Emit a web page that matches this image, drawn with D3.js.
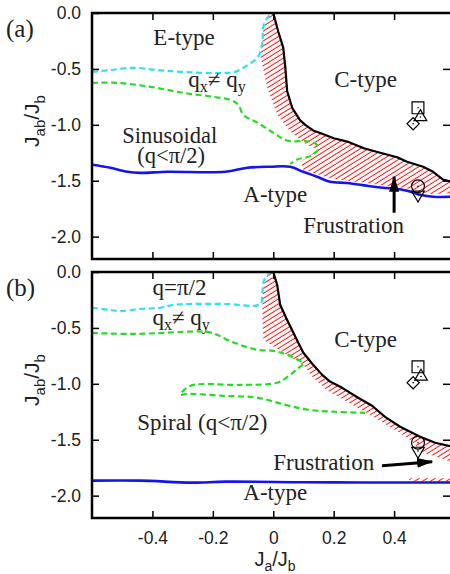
<!DOCTYPE html>
<html>
<head>
<meta charset="utf-8">
<script src="https://cdn.jsdelivr.net/npm/d3@7"></script>
<style>
  body { margin: 0; background: #fff; }
  svg { display: block; }
</style>
</head>
<body>
<svg id="chart" width="450" height="574"></svg>
<script>
// tick values shared by both panels
const xTicks = [-0.4, -0.2, 0, 0.2, 0.4];
const yTicks = [0, -0.5, -1.0, -1.5, -2.0];

// panel (a) boundaries, [Ja/Jb, Jab/Jb]
const aBlack = [[0,0],[0.017,-0.17],[0.033,-0.31],[0.040,-0.49],[0.046,-0.70],[0.063,-0.85],[0.089,-0.96],[0.106,-1.00],[0.132,-1.05],[0.162,-1.08],[0.20,-1.12],[0.245,-1.15],[0.30,-1.21],[0.354,-1.25],[0.41,-1.29],[0.443,-1.33],[0.496,-1.375],[0.529,-1.42],[0.562,-1.49],[0.59,-1.51]];
const aCyan = [[-0.6,-0.527],[-0.539,-0.51],[-0.463,-0.49],[-0.383,-0.51],[-0.307,-0.527],[-0.159,-0.536],[-0.126,-0.527],[-0.093,-0.48],[-0.05,-0.39],[-0.036,-0.26],[-0.033,-0.125],[-0.017,-0.036],[0,0]];
const aGreen = [[-0.6,-0.625],[-0.516,-0.625],[-0.407,-0.66],[-0.298,-0.714],[-0.198,-0.75],[-0.142,-0.777],[-0.116,-0.82],[-0.099,-0.91],[-0.053,-0.98],[0,-1.07],[0.046,-1.14],[0.122,-1.15],[0.145,-1.18],[0.149,-1.22],[0.122,-1.28],[0.079,-1.31],[0.056,-1.35]];
const aBlue = [[-0.6,-1.357],[-0.539,-1.384],[-0.483,-1.42],[-0.44,-1.43],[-0.35,-1.42],[-0.159,-1.42],[-0.086,-1.384],[-0.01,-1.375],[0.056,-1.375],[0.099,-1.42],[0.145,-1.464],[0.188,-1.51],[0.245,-1.52],[0.311,-1.545],[0.354,-1.56],[0.397,-1.57],[0.443,-1.59],[0.486,-1.625],[0.529,-1.643],[0.59,-1.643]];
const aHatch = [[0,0],[0.017,-0.17],[0.033,-0.31],[0.040,-0.49],[0.046,-0.70],[0.063,-0.85],[0.089,-0.96],[0.106,-1.00],[0.132,-1.05],[0.162,-1.08],[0.20,-1.12],[0.245,-1.15],[0.30,-1.21],[0.354,-1.25],[0.41,-1.29],[0.443,-1.33],[0.496,-1.375],[0.529,-1.42],[0.562,-1.49],[0.59,-1.51],
  [0.59,-1.61],[0.53,-1.62],[0.486,-1.60],[0.443,-1.57],[0.397,-1.55],[0.354,-1.54],[0.311,-1.52],[0.245,-1.50],[0.188,-1.48],[0.145,-1.44],[0.099,-1.40],[0.09,-1.33],[0.12,-1.28],[0.145,-1.22],[0.112,-1.18],[0.056,-1.06],[0.013,-0.91],[-0.02,-0.67],[-0.043,-0.375],[-0.036,-0.26],[-0.033,-0.125],[-0.01,-0.02]];
const aMarkers = [["square",0.479,-0.848],["triangle",0.487,-0.93],["diamond",0.463,-0.99],["circle",0.479,-1.55],["triangleDown",0.479,-1.625]];

// panel (b) boundaries
const bBlack = [[0,0],[0.013,-0.116],[0.023,-0.295],[0.046,-0.43],[0.073,-0.58],[0.099,-0.72],[0.129,-0.82],[0.162,-0.92],[0.188,-0.98],[0.228,-1.036],[0.281,-1.125],[0.327,-1.196],[0.37,-1.295],[0.42,-1.384],[0.486,-1.473],[0.536,-1.527],[0.59,-1.56]];
const bCyan = [[-0.6,-0.32],[-0.539,-0.34],[-0.506,-0.35],[-0.44,-0.33],[-0.374,-0.32],[-0.334,-0.295],[-0.274,-0.286],[-0.159,-0.286],[-0.043,-0.286],[-0.036,-0.18],[-0.03,-0.07],[-0.01,-0.01],[0,0]];
const bGreen = [[-0.6,-0.545],[-0.463,-0.554],[-0.218,-0.536],[-0.185,-0.5625],[-0.152,-0.607],[-0.109,-0.652],[-0.053,-0.696],[0,-0.705],[0.046,-0.74],[0.089,-0.795],[0.099,-0.82],[0.079,-0.866],[0.056,-0.92],[0.013,-0.99],[-0.109,-1.01],[-0.274,-1.018],[-0.307,-1.098],[-0.284,-1.09],[-0.165,-1.107],[-0.05,-1.125],[0.04,-1.188],[0.116,-1.232],[0.205,-1.25],[0.304,-1.259]];
const bBlue = [[-0.6,-1.866],[-0.44,-1.866],[-0.27,-1.884],[-0.159,-1.875],[0.1,-1.88],[0.3,-1.882],[0.59,-1.882]];
const bHatch = [[0,0],[0.013,-0.116],[0.023,-0.295],[0.046,-0.43],[0.073,-0.58],[0.099,-0.72],[0.129,-0.82],[0.162,-0.92],[0.188,-0.98],[0.228,-1.036],[0.281,-1.125],[0.327,-1.196],[0.37,-1.295],[0.42,-1.384],[0.486,-1.473],[0.536,-1.527],[0.59,-1.56],
  [0.59,-1.70],[0.552,-1.66],[0.496,-1.616],[0.453,-1.5],[0.42,-1.44],[0.31,-1.26],[0.221,-1.125],[0.179,-1.06],[0.132,-0.946],[0.099,-0.83],[0.023,-0.705],[-0.033,-0.607],[-0.036,-0.43],[-0.036,-0.295],[-0.033,-0.116],[-0.017,-0.018]];
const bHatchStrip = [[0.45,-1.845],[0.59,-1.845],[0.59,-1.875],[0.45,-1.875]];
const bMarkers = [["square",0.479,-0.848],["triangle",0.489,-0.935],["diamond",0.463,-0.99],["circle",0.479,-1.527],["triangleDown",0.479,-1.60]];

const svg = d3.select("#chart");
const serif = "'Liberation Serif', 'Times New Roman', serif";
const sans = "'Liberation Sans', Arial, sans-serif";

const x = d3.scaleLinear().domain([-0.6, 0.585]).range([92, 450]);

const defs = svg.append("defs");
defs.append("pattern")
    .attr("id", "hatch")
    .attr("patternUnits", "userSpaceOnUse")
    .attr("width", 8).attr("height", 4.2)
    .attr("patternTransform", "rotate(-32)")
  .append("line")
    .attr("x1", 0).attr("x2", 8).attr("y1", 2).attr("y2", 2)
    .attr("stroke", "#ff1010").attr("stroke-width", 1);

defs.append("marker")
    .attr("id", "arrowhead")
    .attr("markerUnits", "userSpaceOnUse")
    .attr("viewBox", "0 0 16 10")
    .attr("refX", 15).attr("refY", 5)
    .attr("markerWidth", 16).attr("markerHeight", 10)
    .attr("orient", "auto")
  .append("path")
    .attr("d", "M0,0 L16,5 L0,10 Z")
    .attr("fill", "#000");

function addText(parent, px, py, parts, size, anchor) {
    const t = parent.append("text")
        .attr("x", px).attr("y", py)
        .attr("font-family", serif)
        .attr("font-size", size)
        .attr("fill", "#222")
        .attr("text-anchor", anchor || "start");
    parts.forEach(p => {
        if (typeof p === "string") {
            t.append("tspan").text(p);
        } else {
            t.append("tspan").attr("dy", p.dy).attr("font-size", p.size).text(p.t);
        }
    });
    return t;
}

function drawPanel(top, id, d) {
    const y = d3.scaleLinear().domain([0, -2.2]).range([top, top + 246]);
    const g = svg.append("g");
    const line = d3.line().x(p => x(p[0])).y(p => y(p[1]));

    defs.append("clipPath").attr("id", "clip-" + id)
      .append("rect").attr("x", 92).attr("y", top).attr("width", 358).attr("height", 246);
    const plot = g.append("g").attr("clip-path", `url(#clip-${id})`);

    d.hatch.forEach(h => {
        plot.append("path").attr("d", line(h) + "Z").attr("fill", "url(#hatch)");
    });

    const dashed = [[d.cyan, "#2ee0f0"], [d.green, "#22dd22"]];
    dashed.forEach(([pts, col]) => {
        plot.append("path").attr("d", line.curve(d3.curveCatmullRom.alpha(0.5))(pts))
            .attr("fill", "none").attr("stroke", col)
            .attr("stroke-width", 2.2).attr("stroke-dasharray", "6,3.5");
    });
    plot.append("path").attr("d", line.curve(d3.curveCatmullRom.alpha(0.5))(d.blue))
        .attr("fill", "none").attr("stroke", "#1414ee").attr("stroke-width", 2.6);
    plot.append("path").attr("d", line.curve(d3.curveLinear)(d.black))
        .attr("fill", "none").attr("stroke", "#000").attr("stroke-width", 2.2)
        .attr("stroke-linejoin", "round");

    // markers
    const shapes = {
        square: [d3.symbolSquare, 140, 0],
        triangle: [d3.symbolTriangle, 70, 0],
        diamond: [d3.symbolSquare, 75, 45],
        circle: [d3.symbolCircle, 130, 0],
        triangleDown: [d3.symbolTriangle, 70, 180]
    };
    d.markers.forEach(([s, mx, my]) => {
        const [type, size, rot] = shapes[s];
        g.append("path")
            .attr("d", d3.symbol().type(type).size(size)())
            .attr("transform", `translate(${x(mx)},${y(my)}) rotate(${rot})`)
            .attr("fill", "none").attr("stroke", "#000").attr("stroke-width", 1.2);
        g.append("circle").attr("cx", x(mx)).attr("cy", y(my)).attr("r", 0.8).attr("fill", "#000");
    });

    // arrow
    g.append("line")
        .attr("x1", x(d.arrow[0][0])).attr("y1", y(d.arrow[0][1]))
        .attr("x2", x(d.arrow[1][0])).attr("y2", y(d.arrow[1][1]))
        .attr("stroke", "#000").attr("stroke-width", 3)
        .attr("marker-end", "url(#arrowhead)");

    // frame and ticks
    g.append("rect").attr("x", 92).attr("y", top).attr("width", 362).attr("height", 246)
        .attr("fill", "none").attr("stroke", "#000").attr("stroke-width", 2.5);

    const fmtY = v => v.toFixed(1);
    g.append("g").attr("transform", "translate(92,0)")
        .call(d3.axisLeft(y).tickValues(yTicks).tickSizeInner(-7).tickSizeOuter(0).tickPadding(11).tickFormat(fmtY));
    g.append("g").attr("transform", "translate(450,0)")
        .call(d3.axisRight(y).tickValues(yTicks.slice(1)).tickSizeInner(-7).tickSizeOuter(0).tickFormat(""));
    g.append("g").attr("transform", `translate(0,${top})`)
        .call(d3.axisTop(x).tickValues(xTicks).tickSizeInner(-7).tickSizeOuter(0).tickFormat(""));
    g.append("g").attr("transform", `translate(0,${top + 246})`)
        .call(d3.axisBottom(x).tickValues(xTicks).tickSizeInner(-7).tickSizeOuter(0).tickPadding(14)
            .tickFormat(d.showX ? (v => v === 0 ? "0" : v.toFixed(1)) : ""));
    g.selectAll(".domain").remove();
    g.selectAll(".tick line").attr("stroke", "#000").attr("stroke-width", 1.5);
    g.selectAll(".tick text").attr("font-family", sans).attr("font-size", 17.5).attr("fill", "#222");

    // y title
    const yt = g.append("text")
        .attr("transform", `translate(39,${top + 108}) rotate(-90)`)
        .attr("text-anchor", "middle")
        .attr("font-family", sans).attr("font-size", 21).attr("fill", "#222");
    yt.append("tspan").text("J");
    yt.append("tspan").attr("dy", 6).attr("font-size", 15).text("ab");
    yt.append("tspan").attr("dy", -6).text("/J");
    yt.append("tspan").attr("dy", 6).attr("font-size", 15).text("b");

    // labels
    d.labels.forEach(l => addText(g, x(l[0]), y(l[1]), l[2], l[3] || 23));
    addText(g, 6, top + 24, [d.tag], 25);
    return y;
}

const sub = t => ({ t, dy: 5, size: 16 });
const up = t => ({ t, dy: -5 });

drawPanel(13, "a", {
    black: aBlack, cyan: aCyan, green: aGreen, blue: aBlue,
    hatch: [aHatch], markers: aMarkers,
    arrow: [[0.4, -1.786], [0.4, -1.464]],
    showX: false, tag: "(a)",
    labels: [
        [-0.397, -0.286, ["E-type"]],
        [0.202, -0.66, ["C-type"]],
        [-0.281, -0.66, ["q", sub("x"), up("\u2260 q"), sub("y")]],
        [-0.5, -1.165, ["Sinusoidal"], 22.5],
        [-0.45, -1.345, ["(q<\u03c0/2)"], 22.5],
        [-0.099, -1.69, ["A-type"]],
        [0.099, -1.97, ["Frustration"]]
    ]
});

drawPanel(272, "b", {
    black: bBlack, cyan: bCyan, green: bGreen, blue: bBlue,
    hatch: [bHatch, bHatchStrip], markers: bMarkers,
    arrow: [[0.36, -1.732], [0.526, -1.696]],
    showX: true, tag: "(b)",
    labels: [
        [-0.4, -0.205, ["q=\u03c0/2"]],
        [-0.4, -0.47, ["q", sub("x"), up("\u2260 q"), sub("y")]],
        [0.202, -0.67, ["C-type"]],
        [-0.45, -1.41, ["Spiral (q<\u03c0/2)"]],
        [0, -1.77, ["Frustration"]],
        [-0.099, -2.036, ["A-type"]]
    ]
});

// x title
const xt = svg.append("text")
    .attr("x", 275).attr("y", 566).attr("text-anchor", "middle")
    .attr("font-family", sans).attr("font-size", 20).attr("fill", "#222");
xt.append("tspan").text("J");
xt.append("tspan").attr("dy", 5).attr("font-size", 14).text("a");
xt.append("tspan").attr("dy", -5).text("/J");
xt.append("tspan").attr("dy", 5).attr("font-size", 14).text("b");
</script>
</body>
</html>
